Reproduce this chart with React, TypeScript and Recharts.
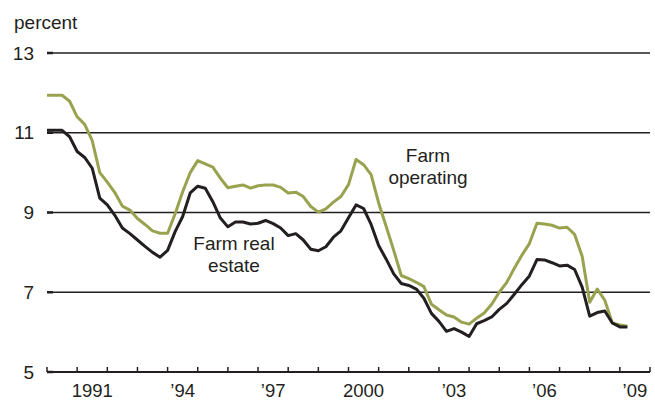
import { LineChart, Line, XAxis, YAxis, CartesianGrid } from 'recharts';

// quarterly, 1990:Q1 - 2009:Q2
const START_YEAR = 1990;

const farmOperating = [
  11.94, 11.94, 11.94, 11.79, 11.4, 11.21, 10.8, 10.0, 9.76, 9.5,
  9.16, 9.06, 8.85, 8.7, 8.54, 8.48, 8.48, 8.97, 9.52, 10.0,
  10.3, 10.22, 10.14, 9.86, 9.62, 9.66, 9.69, 9.61, 9.67, 9.69,
  9.69, 9.63, 9.49, 9.51, 9.4, 9.15, 9.01, 9.09, 9.26, 9.4,
  9.7, 10.33, 10.2, 9.95, 9.24, 8.65, 8.05, 7.42, 7.34, 7.25,
  7.14, 6.7, 6.56, 6.43, 6.38, 6.25, 6.2, 6.35, 6.48, 6.7,
  7.0, 7.25, 7.6, 7.93, 8.22, 8.73, 8.71, 8.68, 8.61, 8.63,
  8.45, 7.9, 6.75, 7.08, 6.8, 6.23, 6.18, 6.15,
];

const farmRealEstate = [
  11.06, 11.06, 11.06, 10.9, 10.53, 10.38, 10.11, 9.36, 9.19, 8.93,
  8.61, 8.47, 8.31, 8.15, 8.0, 7.88, 8.05, 8.52, 8.9, 9.49,
  9.66, 9.61, 9.27, 8.86, 8.64, 8.76, 8.76, 8.71, 8.73, 8.8,
  8.72, 8.61, 8.42, 8.47, 8.31, 8.08, 8.04, 8.14, 8.38, 8.54,
  8.87, 9.19, 9.1, 8.7, 8.17, 7.83, 7.46, 7.22, 7.17, 7.08,
  6.85, 6.47, 6.27, 6.02, 6.09, 6.0, 5.89, 6.21, 6.29, 6.38,
  6.57, 6.72, 6.95, 7.19, 7.41, 7.82, 7.81, 7.74, 7.66, 7.68,
  7.57, 7.13, 6.4, 6.49, 6.53, 6.23, 6.13, 6.13,
];

const yearTicks = [
  1990, 1991, 1992, 1993, 1994, 1995, 1996, 1997, 1998, 1999, 2000,
  2001, 2002, 2003, 2004, 2005, 2006, 2007, 2008, 2009, 2010,
];
const labelYears = [1991, 1994, 1997, 2000, 2003, 2006, 2009];
const yTicks = [5, 7, 9, 11, 13];

const INK = '#231f20';
const GREEN = '#99a24f';
const FONT = '"Liberation Sans", Arial, Helvetica, sans-serif';

const data = farmOperating.map((v, i) => ({
  t: START_YEAR + i / 4,
  operating: v,
  realEstate: farmRealEstate[i],
}));

// labels sit in the middle of each year
const labelTicks = labelYears.map((y) => y + 0.5);

function yearLabel(v: number) {
  const y = Math.floor(v);
  if (y === 1991 || y === 2000) return String(y);
  return '\u2019' + String(y).slice(2);
}

// small tick marks pointing up from the axis line
function YearMark(props: any) {
  const { x, y } = props;
  return <line x1={x} x2={x} y1={y - 5} y2={y} stroke={INK} strokeWidth={1.5} />;
}

export default function App() {
  return (
    <div style={{ position: 'absolute', left: 0, top: 0, width: 655, height: 401, fontFamily: FONT }}>
      <LineChart
        width={655}
        height={401}
        data={data}
        margin={{ top: 53, right: 5, bottom: 0, left: 0 }}
      >
        <CartesianGrid xAxisId="a" vertical={false} stroke={INK} strokeWidth={1.4} />
        <XAxis
          xAxisId="a"
          dataKey="t"
          type="number"
          domain={[1990, 2010]}
          ticks={yearTicks}
          interval={0}
          height={1}
          tick={<YearMark />}
          tickSize={0}
          tickMargin={0}
          tickLine={false}
          axisLine={{ stroke: INK, strokeWidth: 2 }}
        />
        <XAxis
          xAxisId="b"
          dataKey="t"
          type="number"
          domain={[1990, 2010]}
          ticks={labelTicks}
          interval={0}
          height={28}
          tickFormatter={yearLabel}
          tickLine={false}
          axisLine={false}
          tickSize={0}
          tickMargin={11}
          tick={{ fill: INK, fontSize: 18.5, fontFamily: FONT }}
        />
        <YAxis
          domain={[5, 13]}
          ticks={yTicks}
          interval={0}
          width={47}
          axisLine={false}
          tickSize={-6}
          tickMargin={19}
          tickLine={{ stroke: INK, strokeWidth: 2.5 }}
          tick={{ fill: INK, fontSize: 19, fontFamily: FONT }}
        />
        <Line
          xAxisId="a"
          type="linear"
          dataKey="operating"
          stroke={GREEN}
          strokeWidth={3}
          dot={false}
          strokeLinejoin="round"
          isAnimationActive={false}
        />
        <Line
          xAxisId="a"
          type="linear"
          dataKey="realEstate"
          stroke={INK}
          strokeWidth={3}
          dot={false}
          strokeLinejoin="round"
          isAnimationActive={false}
        />
      </LineChart>
      <svg
        width={655}
        height={401}
        style={{ position: 'absolute', left: 0, top: 0, pointerEvents: 'none' }}
      >
        <g fill={INK} fontFamily={FONT} fontSize={19}>
          <text x={14} y={29}>percent</text>
          <text x={428} y={162} textAnchor="middle">Farm</text>
          <text x={428} y={184} textAnchor="middle">operating</text>
          <text x={234} y={250} textAnchor="middle">Farm real</text>
          <text x={234} y={272} textAnchor="middle">estate</text>
        </g>
      </svg>
    </div>
  );
}
